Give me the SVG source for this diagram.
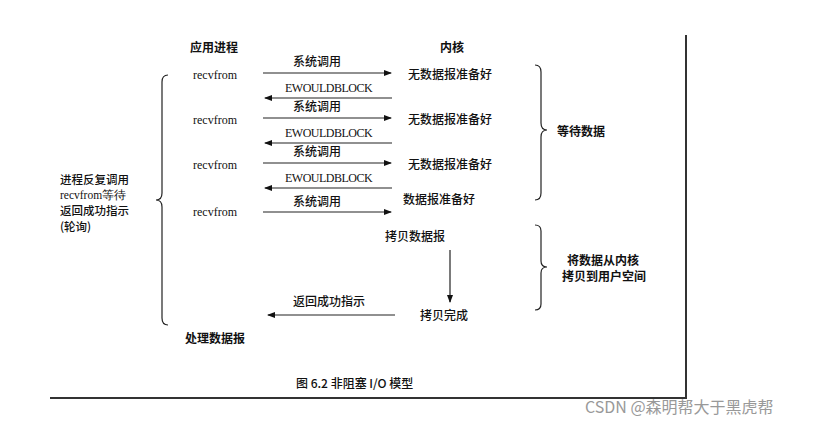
<svg xmlns="http://www.w3.org/2000/svg" width="832" height="425" viewBox="0 0 832 425">
<defs>
<marker id="ah" markerWidth="8" markerHeight="6" refX="7" refY="3" orient="auto" markerUnits="userSpaceOnUse"><path d="M0,0 L8,3 L0,6 Z" fill="#111"/></marker>
<style>
text{font-family:"Noto Sans CJK SC","Liberation Serif",serif;fill:#111;font-size:12px;font-weight:500}
.b{font-weight:bold}
.r{font-family:"Liberation Serif",serif;font-size:12px}
.e{font-family:"Liberation Serif",serif;font-size:12px;letter-spacing:-0.5px}
.c line{stroke:#222;stroke-width:1.2;marker-end:url(#ah)}
.br{fill:none;stroke:#222;stroke-width:1.2}
.s{font-size:11.5px}
</style>
</defs>
<rect width="832" height="425" fill="#fff"/>
<path d="M686,35 V398 H50" fill="none" stroke="#333" stroke-width="2"/>
<g id="headers"><text class="b" x="190" y="52">应用进程</text><text class="b" x="440" y="52">内核</text></g>
<g id="app">
<text class="r" x="193" y="79">recvfrom</text><text class="r" x="193" y="124">recvfrom</text><text class="r" x="193" y="169">recvfrom</text><text class="r" x="193" y="216">recvfrom</text>
<text class="b" x="185" y="343">处理数据报</text>
</g>
<g id="kernel">
<text x="408" y="79">无数据报准备好</text><text x="408" y="124">无数据报准备好</text><text x="408" y="169">无数据报准备好</text>
<text x="403" y="204">数据报准备好</text><text x="385" y="241">拷贝数据报</text><text x="420" y="320">拷贝完成</text>
</g>
<g id="labels">
<text x="293" y="66">系统调用</text><text class="e" x="285" y="92">EWOULDBLOCK</text>
<text x="293" y="111">系统调用</text><text class="e" x="285" y="137">EWOULDBLOCK</text>
<text x="293" y="156">系统调用</text><text class="e" x="285" y="182">EWOULDBLOCK</text>
<text x="293" y="206">系统调用</text><text x="293" y="306">返回成功指示</text>
</g>
<g class="c" id="connectors">
<line x1="263" y1="73" x2="391" y2="73"/><line x1="392" y1="98" x2="265" y2="98"/>
<line x1="263" y1="118" x2="391" y2="118"/><line x1="392" y1="143" x2="265" y2="143"/>
<line x1="263" y1="163" x2="391" y2="163"/><line x1="392" y1="188" x2="265" y2="188"/>
<line x1="263" y1="212" x2="391" y2="212"/>
<line x1="450" y1="250" x2="450" y2="302"/>
<line x1="395" y1="315" x2="268" y2="315"/>
</g>
<g id="braces">
<path class="br" d="M168,75 Q162,75 162,82 V193 Q162,200 156,200 Q162,200 162,207 V318 Q162,325 168,325"/>
<path class="br" d="M535,65 Q541,65 541,72 V123 Q541,130 547,130 Q541,130 541,137 V193 Q541,200 535,200"/>
<path class="br" d="M535,225 Q541,225 541,231 V261 Q541,267 547,267 Q541,267 541,273 V304 Q541,310 535,310"/>
</g>
<g id="side">
<text class="s" x="60" y="184">进程反复调用</text><text class="r s" x="60" y="199">recvfrom等待</text>
<text class="s" x="60" y="215">返回成功指示</text><text class="s" x="60" y="231">(轮询)</text>
<text class="b" x="557" y="136">等待数据</text>
<text class="b" x="567" y="265">将数据从内核</text><text class="b" x="562" y="281">拷贝到用户空间</text>
</g>
<text x="296" y="388">图 6.2  非阻塞 I/O 模型</text>
<text x="585" y="413" style="font-size:16px;fill:#999;font-weight:normal;font-family:'Noto Sans CJK SC','Liberation Sans',sans-serif">CSDN @森明帮大于黑虎帮</text>
</svg>
